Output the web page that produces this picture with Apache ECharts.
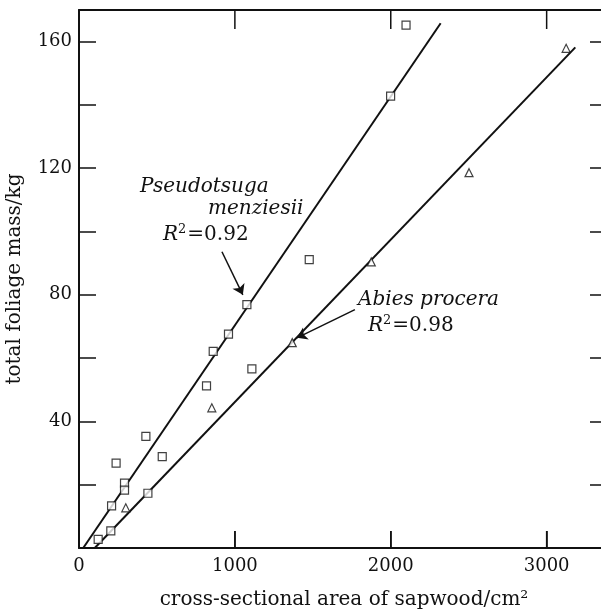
<!DOCTYPE html>
<html>
<head>
<meta charset="utf-8">
<script src="https://cdn.jsdelivr.net/npm/echarts@6/dist/echarts.min.js"></script>
<style>
html,body{margin:0;padding:0;background:#fff;}
#chart{width:601px;height:610px;}
</style>
</head>
<body>
<div id="chart"></div>
<script>
// Pseudotsuga menziesii (squares): [sapwood area cm2, foliage mass kg]
var pseudoPoints = [
  [123, 2.7], [204, 5.4], [209, 13.3], [238, 26.8], [292, 20.5], [292, 18.3],
  [429, 35.3], [442, 17.3], [534, 28.9], [818, 51.2], [861, 62.1], [959, 67.6],
  [1077, 76.9], [1109, 56.6], [1477, 91.1], [1999, 142.8], [2098, 165.2]
];
// Abies procera (triangles)
var abiesPoints = [
  [300, 12.7], [852, 44.3], [1368, 64.9], [1875, 90.4], [2502, 118.6], [3125, 157.9]
];
// fitted regression lines (endpoints)
var pseudoFit = [[27, 0], [2320, 165.8]];
var abiesFit = [[101, 0], [3184, 158.2]];
// arrows (tail, head) in data coordinates
var pseudoArrow = [[917, 93.6], [1051, 80.0]];
var abiesArrow = [[1770, 75.3], [1398, 66.4]];
var xTicks = [0, 1000, 2000, 3000];
var yTicks = [40, 80, 120, 160];
var xTickMarks = [1000, 2000, 3000];

var FONT = 'DejaVu Serif';
var Y_MAX = 170;
var chart = echarts.init(document.getElementById('chart'));
var black = '#111';

var textGraphics = [
  {id: 't1', type: 'text', left: 140, top: 177, style: {text: 'Pseudotsuga', font: 'italic 20px "DejaVu Serif"', fill: black}},
  {id: 't2', type: 'text', left: 208, top: 199, style: {text: 'menziesii', font: 'italic 20px "DejaVu Serif"', fill: black}},
  {id: 't3', type: 'text', left: 163, top: 223, style: {rich: {
    a: {font: 'italic 20px "DejaVu Serif"', fill: black},
    s: {font: '13px "DejaVu Serif"', fill: black, verticalAlign: 'top', padding: [0,1,10,0]},
    b: {font: '20px "DejaVu Serif"', fill: black}
  }, text: '{a|R}{s|2}{b|=0.92}'}},
  {id: 't4', type: 'text', left: 358, top: 290, style: {text: 'Abies procera', font: 'italic 20px "DejaVu Serif"', fill: black}},
  {id: 't5', type: 'text', left: 368, top: 314, style: {rich: {
    a: {font: 'italic 20px "DejaVu Serif"', fill: black},
    s: {font: '13px "DejaVu Serif"', fill: black, verticalAlign: 'top', padding: [0,1,10,0]},
    b: {font: '20px "DejaVu Serif"', fill: black}
  }, text: '{a|R}{s|2}{b|=0.98}'}}
];

chart.setOption({
  animation: false,
  backgroundColor: '#fff',
  grid: {left: 79, top: 10, right: -8, bottom: 62, containLabel: false, outerBoundsMode: 'none'},
  xAxis: [{
    type: 'value', min: 0, max: 3400, interval: 1000,
    name: 'cross-sectional area of sapwood/cm²',
    nameLocation: 'middle', nameGap: 42,
    nameTextStyle: {fontFamily: FONT, fontSize: 20, color: black},
    axisLine: {show: true, lineStyle: {color: black, width: 2}},
    axisTick: {show: true, inside: true, length: 17, lineStyle: {color: black, width: 1.5}},
    axisLabel: {fontFamily: FONT, fontSize: 18, color: black, margin: 9,
      formatter: function (v) { return xTicks.indexOf(v) >= 0 ? String(v) : ''; }},
    splitLine: {show: false}
  }, {
    type: 'value', position: 'top', min: 0, max: 3400, interval: 1000,
    axisLine: {show: true, onZero: false, lineStyle: {color: black, width: 2}},
    axisTick: {show: false},
    axisLabel: {show: false}, splitLine: {show: false}
  }],
  yAxis: [{
    type: 'value', min: 0, max: Y_MAX, interval: 20,
    name: 'total foliage mass/kg',
    nameLocation: 'middle', nameGap: 54, nameRotate: 90,
    nameTextStyle: {fontFamily: FONT, fontSize: 20, color: black},
    axisLine: {show: true, onZero: false, lineStyle: {color: black, width: 2}},
    axisTick: {show: true, inside: true, length: 17, lineStyle: {color: black, width: 1.5}},
    axisLabel: {fontFamily: FONT, fontSize: 18, color: black, margin: 7,
      formatter: function (v) { return yTicks.indexOf(v) >= 0 ? String(v) : ''; }},
    splitLine: {show: false}
  }, {
    type: 'value', position: 'right', min: 0, max: Y_MAX, interval: 20,
    axisLine: {show: false, onZero: false},
    axisTick: {show: true, inside: true, length: 19, lineStyle: {color: black, width: 1.5}},
    axisLabel: {show: false}, splitLine: {show: false}
  }],
  series: [{
    type: 'line', data: pseudoFit, symbol: 'none', z: 2,
    lineStyle: {color: black, width: 2},
    markLine: {
      silent: true, symbol: ['none', 'arrow'], symbolSize: 10,
      lineStyle: {color: black, width: 1.5, type: 'solid'}, label: {show: false},
      data: [[{coord: pseudoArrow[0]}, {coord: pseudoArrow[1]}]]
    }
  }, {
    type: 'line', data: abiesFit, symbol: 'none', z: 2,
    lineStyle: {color: black, width: 2},
    markLine: {
      silent: true, symbol: ['none', 'arrow'], symbolSize: 10,
      lineStyle: {color: black, width: 1.5, type: 'solid'}, label: {show: false},
      data: [[{coord: abiesArrow[0]}, {coord: abiesArrow[1]}]]
    }
  }, {
    type: 'scatter', data: pseudoPoints, symbol: 'rect', symbolSize: 8, z: 5,
    itemStyle: {color: '#fff', borderColor: black, borderWidth: 1.2}
  }, {
    type: 'scatter', data: abiesPoints, symbol: 'triangle', symbolSize: 8, z: 5,
    itemStyle: {color: '#fff', borderColor: black, borderWidth: 1.2}
  }],
  graphic: textGraphics
});

// inward x tick marks on the bottom and top frame, positioned through the axis scale
var tickGraphics = [];
xTickMarks.forEach(function (v, i) {
  var pb = chart.convertToPixel({gridIndex: 0}, [v, 0]);
  var pt = chart.convertToPixel({gridIndex: 0}, [v, Y_MAX]);
  tickGraphics.push({id: 'tb' + i, type: 'line', z: 100, silent: true,
    shape: {x1: pb[0], y1: pb[1], x2: pb[0], y2: pb[1] - 17},
    style: {stroke: black, lineWidth: 1.5}});
  tickGraphics.push({id: 'tt' + i, type: 'line', z: 100, silent: true,
    shape: {x1: pt[0], y1: pt[1], x2: pt[0], y2: pt[1] + 19},
    style: {stroke: black, lineWidth: 1.5}});
});
chart.setOption({graphic: textGraphics.concat(tickGraphics)});
</script>
</body>
</html>
